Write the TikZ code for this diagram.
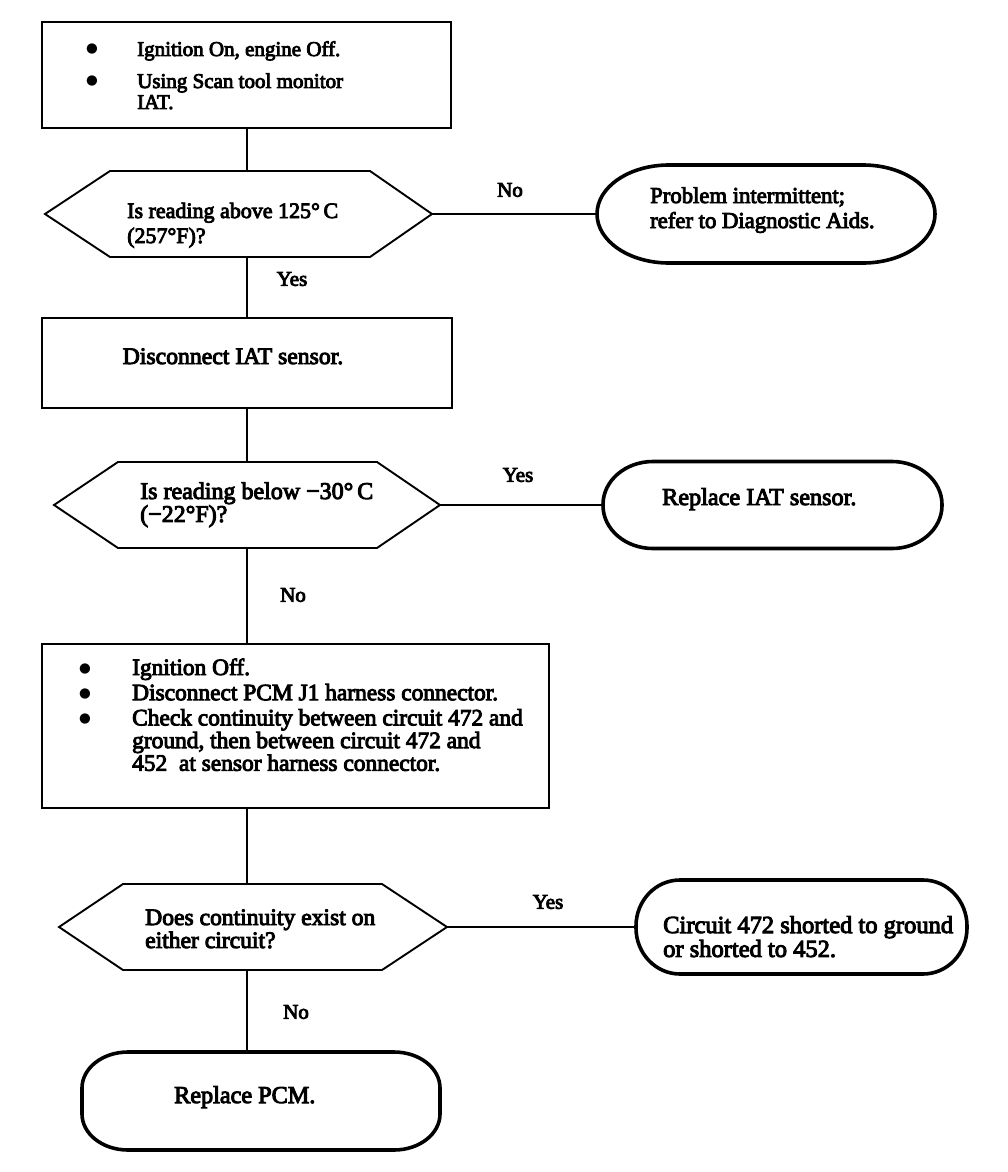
\documentclass[tikz,border=0pt]{standalone}
\usepackage{fontspec}
\setmainfont{Liberation Serif}[FakeBold=4]
\newfontfamily\bulfont{DejaVu Sans}
\newcommand\bul{\raisebox{3pt}{\bulfont\fontsize{13.5}{13.5}\selectfont ●}}
\newcommand\ovaldraw[3]{%
  \draw[ovalline] ([xshift=#2pt]#1.north west) -- ([xshift=-#2pt]#1.north east)
    arc[start angle=90,end angle=0,x radius=#2pt,y radius=#3pt]
    -- ([yshift=#3pt]#1.south east)
    arc[start angle=0,end angle=-90,x radius=#2pt,y radius=#3pt]
    -- ([xshift=#2pt]#1.south west)
    arc[start angle=270,end angle=180,x radius=#2pt,y radius=#3pt]
    -- ([yshift=-#3pt]#1.north west)
    arc[start angle=180,end angle=90,x radius=#2pt,y radius=#3pt] -- cycle;}
\newcommand\hexdraw[3]{%
  \draw[boxline] (#1.west) -- ([xshift=#2pt]#1.north west) -- ([xshift=-#3pt]#1.north east)
    -- (#1.east) -- ([xshift=-#3pt]#1.south east) -- ([xshift=#2pt]#1.south west) -- cycle;}
\begin{document}
\begin{tikzpicture}[x=1pt,y=-1pt,
  area/.style 2 args={rectangle,inner sep=0pt,outer sep=0pt,minimum width=#1,minimum height=#2},
  boxline/.style={line width=1.9pt,line join=miter},
  ovalline/.style={line width=3.6pt},
  conn/.style={line width=1.5pt},
  txt/.style={inner sep=0pt,anchor=base west,align=left},
  lbl/.style={inner sep=0pt,font=\fontsize{21}{21}\selectfont}]
\fill[white] (0,0) rectangle (1008,1172);
\useasboundingbox (0,0) rectangle (1008,1172);
\coordinate (sp) at (247,0);
% shapes
\node[area={409}{106},draw,boxline] (b1) at (246.5,75) {};
\node[area={387}{86}] (h1) at (238.5,214) {};
\hexdraw{h1}{65}{62}
\node[area={338}{98}] (o1) at (766,214) {};
\ovaldraw{o1}{72}{49}
\node[area={410}{90},draw,boxline] (b2) at (247,363) {};
\node[area={386}{86}] (h2) at (247,505) {};
\hexdraw{h2}{64}{63}
\node[area={339}{87}] (o2) at (772.5,505) {};
\ovaldraw{o2}{50}{43}
\node[area={507}{164},draw,boxline] (b3) at (295.5,726) {};
\node[area={388}{86}] (h3) at (253,927) {};
\hexdraw{h3}{64}{65}
\node[area={331}{94}] (o3) at (801.5,927) {};
\ovaldraw{o3}{44}{46}
\node[area={358}{98}] (o4) at (261,1101) {};
\ovaldraw{o4}{46}{36}
% connectors
\draw[conn] (b1.south -| sp) -- (h1.north -| sp);
\draw[conn] (h1.south -| sp) -- (b2.north -| sp);
\draw[conn] (b2.south -| sp) -- (h2.north -| sp);
\draw[conn] (h2.south -| sp) -- (b3.north -| sp);
\draw[conn] (b3.south -| sp) -- (h3.north -| sp);
\draw[conn] (h3.south -| sp) -- (o4.north -| sp);
\draw[conn] (h1.east) -- (o1.west);
\draw[conn] (h2.east) -- (o2.west);
\draw[conn] (h3.east) -- (o3.west);
% texts
\node[txt,font=\fontsize{21}{21}\selectfont] (t1) at (86,56)
  {\begin{tabular}[t]{@{}p{51pt}@{}l@{}}\bul&Ignition On, engine Off.\\[11pt]\bul&Using Scan tool monitor\\&IAT.\end{tabular}};
\node[txt,font=\fontsize{22}{25}\selectfont] (th1) at (127,218)
  {\begin{tabular}[t]{@{}l@{}}Is reading above 125°\,C\\(257°F)?\end{tabular}};
\node[txt,font=\fontsize{22.7}{25}\selectfont] (to1) at (650,203)
  {\begin{tabular}[t]{@{}l@{}}Problem intermittent;\\refer to Diagnostic Aids.\end{tabular}};
\node[inner sep=0pt,anchor=base,font=\fontsize{23.7}{25}\selectfont] (tb2) at (233,364) {Disconnect IAT sensor.};
\node[txt,font=\fontsize{24}{21}\selectfont] (th2) at (140,499)
  {\begin{tabular}[t]{@{}l@{}}Is reading below −30°\,C\\(−22°F)?\end{tabular}};
\node[txt,font=\fontsize{24.2}{25}\selectfont] (to2) at (662,505) {Replace IAT sensor.};
\node[txt,font=\fontsize{23.4}{21.5}\selectfont] (tb3) at (79,675)
  {\begin{tabular}[t]{@{}p{53pt}@{}l@{}}\bul&Ignition Off.\\[2.5pt]\bul&Disconnect PCM J1 harness connector.\\[2.5pt]\bul&Check continuity between circuit 472 and\\&ground, then between circuit 472 and\\&452\ \ at sensor harness connector.\end{tabular}};
\node[txt,font=\fontsize{23.6}{22}\selectfont] (th3) at (145,925)
  {\begin{tabular}[t]{@{}l@{}}Does continuity exist on\\either circuit?\end{tabular}};
\node[txt,font=\fontsize{24.5}{23}\selectfont] (to3) at (663,933)
  {\begin{tabular}[t]{@{}l@{}}Circuit 472 shorted to ground\\or shorted to 452.\end{tabular}};
\node[txt,font=\fontsize{24.2}{25}\selectfont] (to4) at (174,1103) {Replace PCM.};
% labels
\node[lbl] (y1) at (292,279) {Yes};
\node[lbl] (n1) at (510,190) {No};
\node[lbl] (y2) at (518,475) {Yes};
\node[lbl] (n2) at (293,595) {No};
\node[lbl] (y3) at (548,902) {Yes};
\node[lbl] (n3) at (296,1012) {No};
\end{tikzpicture}
\end{document}
